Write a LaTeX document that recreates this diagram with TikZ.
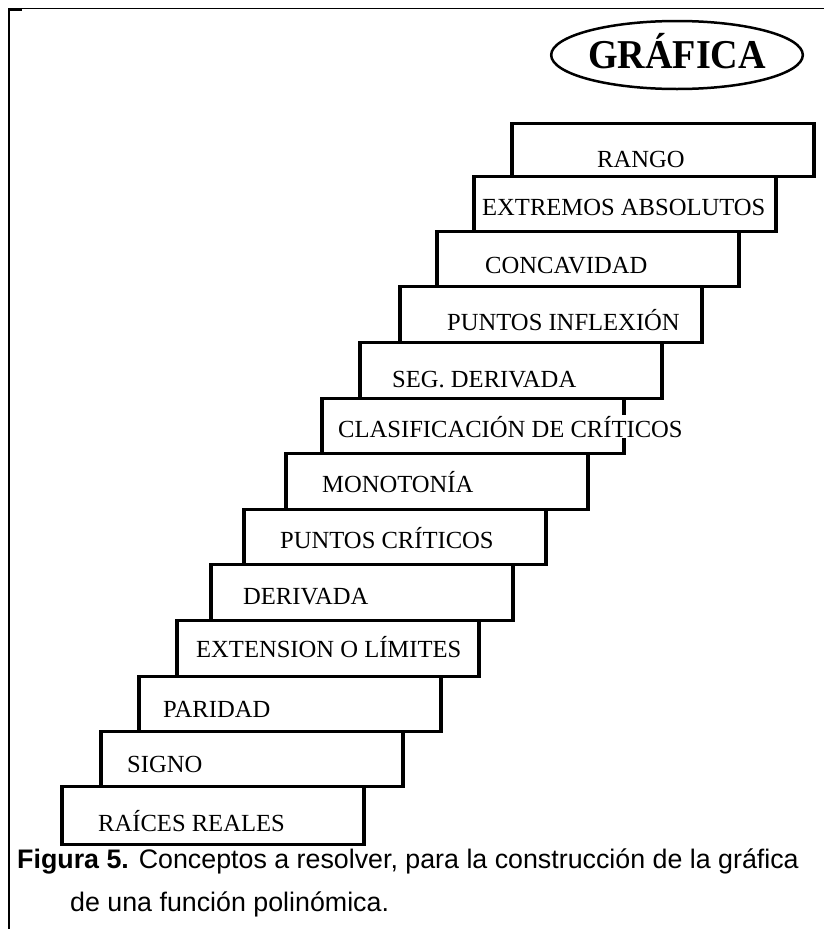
\documentclass[tikz,border=0pt]{standalone}
\usepackage{fontspec}
\setmainfont{Liberation Serif}
\setsansfont{Liberation Sans}
\usetikzlibrary{shapes.geometric}

\begin{document}
\begin{tikzpicture}[x=1pt,y=-1pt,
		stepbox/.style={draw,line width=3.5pt,fill=white,minimum width=302pt,inner sep=0pt,anchor=south west},
		steptext/.style={anchor=base west,inner sep=1pt,fill=white,font=\fontsize{24.6}{28}\selectfont},
		captext/.style={anchor=base west,inner sep=0pt,font=\sffamily\fontsize{26.8}{30}\selectfont}]
		\useasboundingbox (0,0) rectangle (824,929);
		% marco
		\draw[line width=2.5pt] (9,929) to (9,8);
		\draw[line width=1.3pt] (9,8.5) to (824,8.5);
		\draw[line width=3pt] (9,9.5) to (22,9.5);
		
		\node[ellipse,draw,line width=2.5pt,minimum width=228pt,minimum height=68pt,inner sep=0pt,
			text height=27pt,text depth=0pt,font=\bfseries\fontsize{41}{44}\selectfont] (grafica) at (677,55) {\scalebox{0.93}[1]{GRÁFICA}};
		
		\node[stepbox,minimum height=58pt] (raices) at (60,846) {};
		\node[steptext] (raices-txt) at (97,831) {RAÍCES REALES};
		\node[stepbox,minimum height=55pt] (signo) at (99,788) {};
		\node[steptext] (signo-txt) at (126,772) {SIGNO};
		\node[stepbox,minimum height=55pt] (paridad) at (137,733) {};
		\node[steptext] (paridad-txt) at (162,717) {PARIDAD};
		\node[stepbox,minimum height=56pt] (extension) at (175,678) {};
		\node[steptext] (extension-txt) at (195,657) {EXTENSION O LÍMITES};
		\node[stepbox,minimum height=56pt] (derivada) at (209,622) {};
		\node[steptext] (derivada-txt) at (242,604) {DERIVADA};
		\node[stepbox,minimum height=55pt] (criticos) at (242,566) {};
		\node[steptext] (criticos-txt) at (279,548) {PUNTOS CRÍTICOS};
		\node[stepbox,minimum height=56pt] (monotonia) at (284,511) {};
		\node[steptext] (monotonia-txt) at (321,492) {MONOTONÍA};
		\node[stepbox,minimum height=55pt] (clasif) at (320,455) {};
		\node[steptext] (clasif-txt) at (337,437) {CLASIFICACIÓN DE CRÍTICOS};
		\node[stepbox,minimum height=56pt] (segder) at (358,400) {};
		\node[steptext] (segder-txt) at (391,387) {SEG. DERIVADA};
		\node[stepbox,minimum height=56pt] (inflexion) at (398,344) {};
		\node[steptext] (inflexion-txt) at (446,330) {PUNTOS INFLEXIÓN};
		\node[stepbox,minimum height=55pt] (concavidad) at (435,288) {};
		\node[steptext] (concavidad-txt) at (484,273) {CONCAVIDAD};
		\node[stepbox,minimum height=55pt] (extremos) at (472,233) {};
		\node[steptext] (extremos-txt) at (481,215) {EXTREMOS ABSOLUTOS};
		\node[stepbox,minimum height=53pt] (rango) at (510,178) {};
		\node[steptext] (rango-txt) at (596,167) {RANGO};
		
		\node[captext] (cap1) at (17,868) {\textbf{Figura 5.} Conceptos a resolver, para la construcción de la gráfica};
		\node[captext] (cap2) at (70,911) {de una función polinómica.};
	\end{tikzpicture}
\end{document}
